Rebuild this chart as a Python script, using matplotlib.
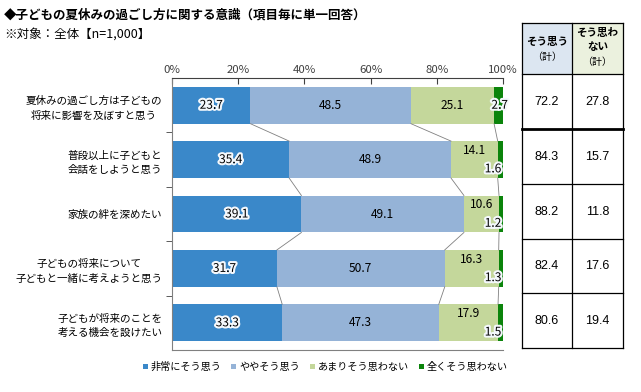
import matplotlib.pyplot as plt
import matplotlib.patheffects as pe
from matplotlib.patches import Rectangle

plt.rcParams['font.family'] = ['Noto Sans CJK JP', 'DejaVu Sans']

categories = [
    '夏休みの過ごし方は子どもの\n将来に影響を及ぼすと思う',
    '普段以上に子どもと\n会話をしようと思う',
    '家族の絆を深めたい',
    '子どもの将来について\n子どもと一緒に考えようと思う',
    '子どもが将来のことを\n考える機会を設けたい',
]
series_names = ['非常にそう思う', 'ややそう思う', 'あまりそう思わない', '全くそう思わない']
very = [23.7, 35.4, 39.1, 31.7, 33.3]
somewhat = [48.5, 48.9, 49.1, 50.7, 47.3]
not_much = [25.1, 14.1, 10.6, 16.3, 17.9]
not_at_all = [2.7, 1.6, 1.2, 1.3, 1.5]
colors = ['#3a88c9', '#95b3d7', '#c4d79b', '#0b840b']

W, H = 641, 392
fig = plt.figure(figsize=(W / 100, H / 100), dpi=100)

def fx(px):
    return px / W

def fy(py):
    return 1 - py / H

fig.text(fx(4), fy(15), '◆子どもの夏休みの過ごし方に関する意識（項目毎に単一回答）',
         fontsize=9, fontweight='bold', va='center')
fig.text(fx(4), fy(34), '※対象：全体【n=1,000】', fontsize=9, va='center')

ax = fig.add_axes([fx(172), fy(350), fx(503) - fx(172), fy(78) - fy(350)])
data = [very, somewhat, not_much, not_at_all]
n = len(categories)
ys = list(range(n))
bh = 0.68
lefts = [0.0] * n
cums = []
for k, vals in enumerate(data):
    ax.barh(ys, vals, left=lefts, height=bh, color=colors[k], label=series_names[k])
    lefts = [l + v for l, v in zip(lefts, vals)]
    cums.append(list(lefts))

# connector lines between bars
for k in range(3):
    for i in range(n - 1):
        ax.plot([cums[k][i], cums[k][i + 1]], [i + bh / 2, i + 1 - bh / 2],
                color='#808080', lw=0.6, zorder=1)

glow = [pe.withStroke(linewidth=3, foreground='#f4f8fc')]
fs = 8.6
for i in range(n):
    ax.text(very[i] / 2, i, f'{very[i]:.1f}', ha='center', va='center',
            fontsize=fs, path_effects=glow)
    ax.text(very[i] + somewhat[i] / 2, i, f'{somewhat[i]:.1f}', ha='center',
            va='center', fontsize=fs)
    x3 = very[i] + somewhat[i] + not_much[i] / 2
    if i == 0:
        ax.text(x3, i, f'{not_much[i]:.1f}', ha='center', va='center', fontsize=fs)
        ax.text(99.0, i, f'{not_at_all[i]:.1f}', ha='center', va='center',
                fontsize=fs, path_effects=glow)
    else:
        ax.text(x3, i - 0.17, f'{not_much[i]:.1f}', ha='center', va='center', fontsize=fs)
        ax.text(99.5, i + 0.17, f'{not_at_all[i]:.1f}', ha='right', va='center',
                fontsize=fs, path_effects=glow)

ax.set_xlim(0, 100)
ax.set_ylim(n - 0.5, -0.5)
ax.xaxis.tick_top()
ax.set_xticks([0, 20, 40, 60, 80, 100])
ax.set_xticklabels([f'{t}%' for t in [0, 20, 40, 60, 80, 100]], fontsize=8.2, color='#404040')
ax.tick_params(axis='x', direction='in', length=4, color='#404040', pad=2)
ax.set_yticks([y + 0.5 for y in ys[:-1]], minor=True)
ax.set_yticks(ys)
ax.set_yticklabels(categories, fontsize=7.6, linespacing=1.55, multialignment='center')
ax.tick_params(axis='y', which='major', length=0, pad=7)
ax.tick_params(axis='y', which='minor', length=4, color='#404040')
ax.spines['right'].set_visible(False)
for s in ['top', 'left', 'bottom']:
    ax.spines[s].set_color('#808080')
ax.spines['top'].set_color('#404040')

handles, labels = ax.get_legend_handles_labels()
fig.legend(handles, labels, loc='center', bbox_to_anchor=(fx(325), fy(367)), ncol=4,
           frameon=False, fontsize=7.3, handlelength=0.5, handleheight=0.5,
           handletextpad=0.25, columnspacing=1.0)

# summary table
agree = [a + b for a, b in zip(very, somewhat)]
disagree = [c + d for c, d in zip(not_much, not_at_all)]
tx = [522, 572, 623]
ty = [23, 74, 129, 184, 239, 293, 348]
tab = fig.add_axes([0, 0, 1, 1])
tab.set_xlim(0, W)
tab.set_ylim(H, 0)
tab.axis('off')
tab.patch.set_alpha(0)
tab.add_patch(Rectangle((tx[0], ty[0]), tx[1] - tx[0], ty[1] - ty[0], facecolor='#dce6f1', edgecolor='none'))
tab.add_patch(Rectangle((tx[1], ty[0]), tx[2] - tx[1], ty[1] - ty[0], facecolor='#ebf1de', edgecolor='none'))
for yy in ty:
    tab.plot([tx[0], tx[2]], [yy, yy], color='black', lw=2 if yy == 129 else 0.9)
for xx in tx:
    tab.plot([xx, xx], [ty[0], ty[-1]], color='black', lw=0.9)
hc = (tx[0] + tx[1]) / 2
hc2 = (tx[1] + tx[2]) / 2
tab.text(hc, 42, 'そう思う', ha='center', va='center', fontsize=7.6, fontweight='bold')
tab.text(hc, 57, '（計）', ha='center', va='center', fontsize=7.2)
tab.text(hc2, 33, 'そう思わ', ha='center', va='center', fontsize=7.6, fontweight='bold')
tab.text(hc2, 47, 'ない', ha='center', va='center', fontsize=7.6, fontweight='bold')
tab.text(hc2, 62, '（計）', ha='center', va='center', fontsize=7.2)
for i in range(n):
    yc = (ty[i + 1] + ty[i + 2]) / 2
    tab.text(hc, yc, f'{agree[i]:.1f}', ha='center', va='center', fontsize=9, family='Liberation Sans')
    tab.text(hc2, yc, f'{disagree[i]:.1f}', ha='center', va='center', fontsize=9, family='Liberation Sans')

fig.savefig('out.png', dpi=100)
